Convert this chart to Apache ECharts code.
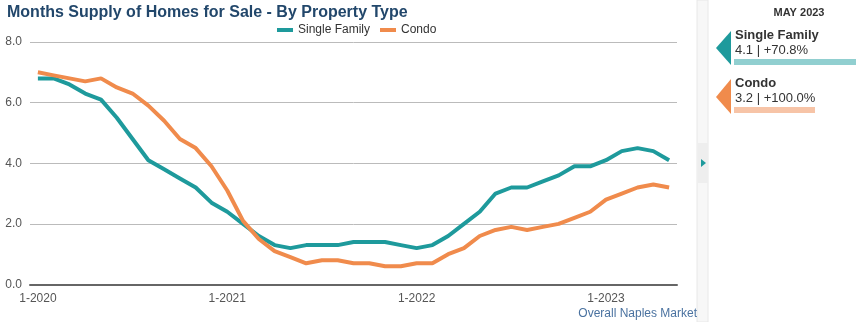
<!DOCTYPE html>
<html><head><meta charset="utf-8">
<script src="https://cdn.jsdelivr.net/npm/echarts@6/dist/echarts.min.js"></script>
<style>html,body{margin:0;padding:0;background:#fff}#c{width:856px;height:322px}</style>
</head><body><div id="c"></div>
<script>
const months = ["1-2020","2-2020","3-2020","4-2020","5-2020","6-2020","7-2020","8-2020","9-2020","10-2020","11-2020","12-2020",
"1-2021","2-2021","3-2021","4-2021","5-2021","6-2021","7-2021","8-2021","9-2021","10-2021","11-2021","12-2021",
"1-2022","2-2022","3-2022","4-2022","5-2022","6-2022","7-2022","8-2022","9-2022","10-2022","11-2022","12-2022",
"1-2023","2-2023","3-2023","4-2023","5-2023"];
const singleFamily = [6.8,6.8,6.6,6.3,6.1,5.5,4.8,4.1,3.8,3.5,3.2,2.7,2.4,2.0,1.6,1.3,1.2,1.3,1.3,1.3,1.4,1.4,1.4,1.3,1.2,1.3,1.6,2.0,2.4,3.0,3.2,3.2,3.4,3.6,3.9,3.9,4.1,4.4,4.5,4.4,4.1];
const condo = [7.0,6.9,6.8,6.7,6.8,6.5,6.3,5.9,5.4,4.8,4.5,3.9,3.1,2.1,1.5,1.1,0.9,0.7,0.8,0.8,0.7,0.7,0.6,0.6,0.7,0.7,1.0,1.2,1.6,1.8,1.9,1.8,1.9,2.0,2.2,2.4,2.8,3.0,3.2,3.3,3.2];
const seriesNames = ["Single Family","Condo"];
const yoyChange = ["+70.8%","+100.0%"];
const panelMonth = "MAY 2023";
const footer = "Overall Naples Market";
const chartTitle = "Months Supply of Homes for Sale - By Property Type";

const TEAL = "#1e9a9c", ORANGE = "#f08b4c";
const FF = "'Liberation Sans', Arial, sans-serif";
const chart = echarts.init(document.getElementById('c'), null, {renderer:'canvas'});
const janOnly = (i) => i % 12 === 0;
chart.setOption({
  animation: false,
  textStyle: {fontFamily: FF},
  title: {text: chartTitle, left: 2, top: 0, textStyle: {fontSize: 16, fontWeight: 'bold', color: '#22476b', fontFamily: FF}},
  legend: {left: 272, top: 19, itemWidth: 16, itemHeight: 4, itemGap: 10, icon: 'rect',
    textStyle: {fontSize: 12, color: '#333', fontFamily: FF}, data: seriesNames},
  grid: {left: 30, right: 179, top: 42, bottom: 37.5, containLabel: false},
  xAxis: {type: 'category', data: months, boundaryGap: true,
    axisLine: {lineStyle: {color: '#666', width: 2}},
    axisTick: {alignWithLabel: true, interval: janOnly, length: 5, lineStyle: {color: '#666', width: 2}},
    axisLabel: {interval: janOnly, color: '#555', fontSize: 12, margin: 8, fontFamily: FF},
    splitLine: {show: false}},
  yAxis: {type: 'value', min: 0, max: 8, interval: 2,
    axisLine: {show: false}, axisTick: {show: false},
    axisLabel: {formatter: v => v.toFixed(1), color: '#555', fontSize: 12, margin: 8, fontFamily: FF},
    splitLine: {lineStyle: {color: '#bbb', width: 1}}},
  series: [
    {name: seriesNames[0], type: 'line', data: singleFamily, showSymbol: false, symbol: 'none',
      lineStyle: {color: TEAL, width: 4}, itemStyle: {color: TEAL}},
    {name: seriesNames[1], type: 'line', data: condo, showSymbol: false, symbol: 'none',
      lineStyle: {color: ORANGE, width: 4}, itemStyle: {color: ORANGE}}
  ],
  graphic: [
    {type: 'rect', shape: {x: 697, y: 0, width: 11, height: 322}, style: {fill: '#f7f7f7', stroke: '#e8e8e8', lineWidth: 1}},
    {type: 'rect', shape: {x: 698, y: 143, width: 10, height: 40}, style: {fill: '#eeeeee'}},
    {type: 'polygon', shape: {points: [[701,159],[706,163],[701,167]]}, style: {fill: TEAL}},
    {type: 'text', x: 799, y: 7, style: {text: panelMonth, font: "bold 11px " + FF, fill: '#333', textAlign: 'center'}},
    {type: 'polygon', shape: {points: [[716,48],[731,31],[731,65]]}, style: {fill: TEAL}},
    {type: 'text', x: 735, y: 29, style: {text: seriesNames[0], font: "bold 13px " + FF, fill: '#333'}},
    {type: 'text', x: 735, y: 44, style: {text: singleFamily[singleFamily.length-1].toFixed(1) + " | " + yoyChange[0], font: "13px " + FF, fill: '#333'}},
    {type: 'rect', shape: {x: 734, y: 59, width: 122, height: 6}, style: {fill: '#91cfd0'}},
    {type: 'polygon', shape: {points: [[716,97],[731,79],[731,114]]}, style: {fill: ORANGE}},
    {type: 'text', x: 735, y: 77, style: {text: seriesNames[1], font: "bold 13px " + FF, fill: '#333'}},
    {type: 'text', x: 735, y: 92, style: {text: condo[condo.length-1].toFixed(1) + " | " + yoyChange[1], font: "13px " + FF, fill: '#333'}},
    {type: 'rect', shape: {x: 734, y: 107, width: 81, height: 6}, style: {fill: '#f7c4a7'}},
    {type: 'text', x: 697, y: 308, style: {text: footer, font: "12px " + FF, fill: '#4a72a0', textAlign: 'right'}}
  ]
});
</script></body></html>
